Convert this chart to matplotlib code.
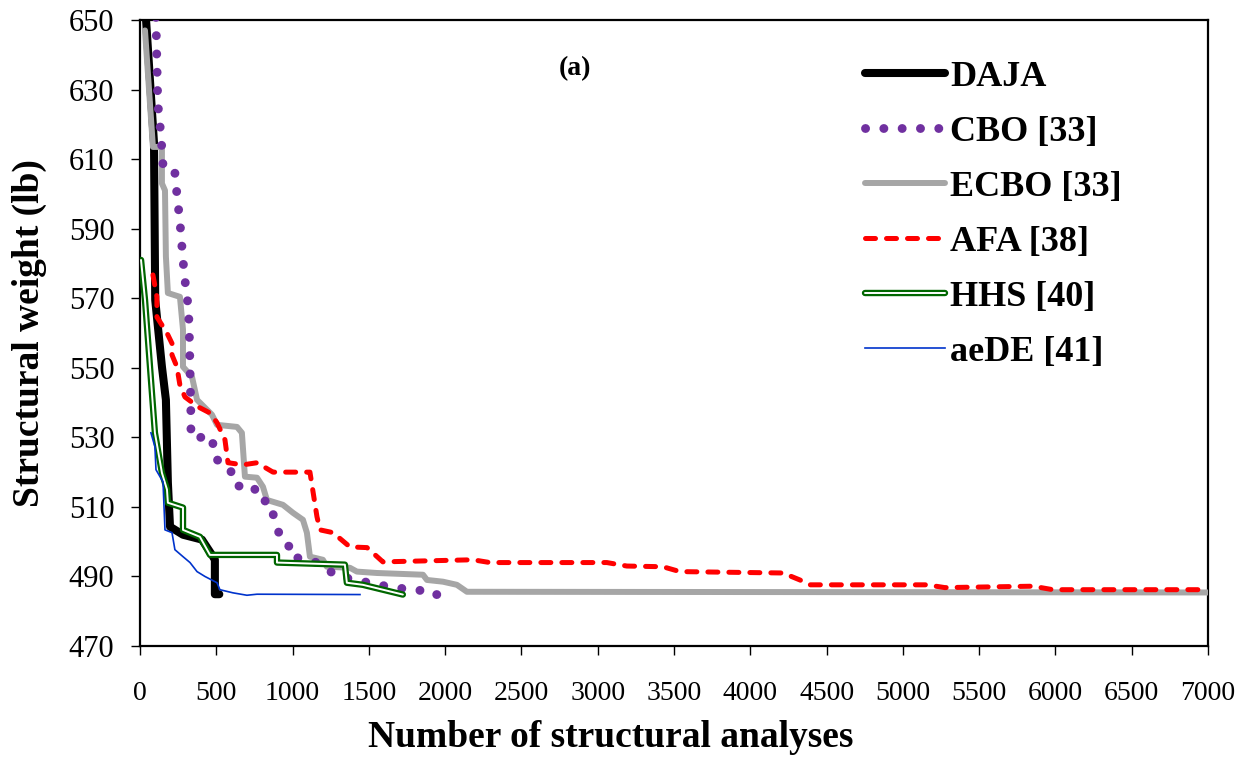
import matplotlib
matplotlib.use("Agg")
import matplotlib.pyplot as plt
import matplotlib.patheffects as pe
import numpy as np

plt.rcParams['font.family'] = ['Liberation Serif', 'DejaVu Serif']

# Convergence histories: number of structural analyses vs. best weight (lb)
daja_x = [25, 40, 92, 100, 144, 170, 183, 197, 282, 406, 472, 491, 491, 520]
daja_y = [680, 650, 614.7, 569.5, 550.3, 540.8, 517, 504.3, 502, 500.6, 496.2, 494.8, 484.9, 484.9]

cbo_x = [105, 105, 117, 131, 142, 153, 229, 242, 262, 282, 295, 308, 322, 328, 334, 334,
         478, 478, 518, 590, 629, 747, 773, 852, 872, 904, 930, 983, 983, 1062, 1160,
         1297, 1422, 1553, 1658, 1789, 1861, 1894, 2031]
cbo_y = [662, 650, 626, 620, 614, 607, 606, 600, 592, 581, 575, 571.5, 563, 550, 536, 530,
         530, 525, 523, 521, 516, 516, 512, 511.5, 508, 503.4, 500, 498.5, 496, 495, 494,
         490, 489, 487.6, 487, 486, 486, 484.8, 484.8]

ecbo_x = [33, 85, 144, 144, 164, 170, 183, 262, 282, 282, 341, 374, 472, 505, 636, 668, 688,
          767, 806, 832, 937, 1003, 1068, 1094, 1114, 1199, 1225, 1376, 1422, 1553, 1855,
          1881, 1986, 2077, 2143, 7000]
ecbo_y = [647, 613.5, 613.5, 603, 601, 582, 571.5, 570.4, 561, 550.3, 547.4, 540.8, 536.5,
          533.6, 533, 531.3, 518.7, 518.4, 515.8, 512, 510.6, 508.3, 506.3, 502.6, 495.7,
          494.8, 492.8, 492.5, 491.4, 491, 490.5, 489, 488.5, 487.6, 485.6, 485.4]

afa_x = [85, 111, 111, 177, 210, 210, 242, 262, 295, 380, 459, 505, 557, 577, 675, 767, 872,
         1114, 1160, 1180, 1265, 1376, 1488, 1592, 2182, 2294, 3060, 3191, 3427, 3539, 4214,
         4325, 4391, 5157, 5275, 5852, 5983, 7000]
afa_y = [576.7, 570.4, 564.6, 560, 557, 553.7, 550.3, 545, 541.6, 538.8, 537, 534.2, 529.3,
         522.7, 522.1, 522.7, 520, 520, 507.2, 503.4, 502.6, 498.5, 498.3, 494.2, 494.8, 494,
         494, 493, 492.8, 491.4, 491, 489, 487.6, 487.6, 486.8, 487.2, 486.2, 486.2]

hhs_x = [7, 33, 98, 144, 177, 183, 282, 282, 393, 459, 898, 898, 1343, 1356, 1461, 1723]
hhs_y = [581, 569.5, 531.3, 519.8, 515, 511.2, 509.8, 503.4, 501.4, 496.2, 496.2, 494,
         493.4, 488.2, 487.6, 484.8]

aede_x = [72, 98, 105, 151, 164, 210, 229, 282, 328, 374, 426, 505, 524, 609, 701, 767, 1442]
aede_y = [531.3, 527.3, 520.7, 517.2, 503.4, 502.6, 497.7, 495.7, 494, 491.4, 490, 488.2,
          486.2, 485.3, 484.6, 484.9, 484.8]

labels = ["DAJA", "CBO [33]", "ECBO [33]", "AFA [38]", "HHS [40]", "aeDE [41]"]
x_ticks = np.arange(0, 7001, 500)
y_ticks = np.arange(470, 651, 20)

fig = plt.figure(figsize=(12.53, 7.63), dpi=100)
ax = fig.add_axes([0.1117, 0.1533, 0.8524, 0.8205])

l_daja, = ax.plot(daja_x, daja_y, color='black', lw=5.8, solid_capstyle='round',
                  solid_joinstyle='round', label=labels[0], zorder=2)
l_ecbo, = ax.plot(ecbo_x, ecbo_y, color='#A6A6A6', lw=4.3, solid_capstyle='round',
                  solid_joinstyle='round', label=labels[2], zorder=3)
l_cbo, = ax.plot(cbo_x, cbo_y, color='#7030A0', lw=6.4, linestyle=(0, (0.01, 2.05)),
                 dash_capstyle='round', label=labels[1], zorder=4)
l_afa, = ax.plot(afa_x, afa_y, color='#FF0000', lw=3.6, linestyle=(0, (2.0, 2.2)),
                 dash_capstyle='round', dash_joinstyle='round', label=labels[3], zorder=5)
l_hhs, = ax.plot(hhs_x, hhs_y, color='white', lw=1.4, solid_capstyle='round',
                 solid_joinstyle='round', label=labels[4], zorder=6,
                 path_effects=[pe.Stroke(linewidth=4.6, foreground='#006600'), pe.Normal()])
l_aede, = ax.plot(aede_x, aede_y, color='#0033CC', lw=1.2, label=labels[5], zorder=7)

ax.set_xlim(0, 7000)
ax.set_ylim(470, 650)
ax.set_xticks(x_ticks)
ax.set_yticks(y_ticks)

for s in ax.spines.values():
    s.set_linewidth(1.6)
ax.tick_params(axis='both', direction='out', length=6.5, width=1.0)
ax.tick_params(axis='x', pad=19, labelsize=20)
ax.tick_params(axis='y', pad=12, labelsize=22)

ax.set_xlabel("Number of structural analyses", fontsize=27, fontweight='bold')
ax.set_ylabel("Structural weight (lb)", fontsize=27, fontweight='bold')
ax.xaxis.set_label_coords(0.441, -0.118)
ax.yaxis.set_label_coords(-0.087, 0.5)

ax.text(0.407, 0.923, "(a)", transform=ax.transAxes, fontsize=20, fontweight='bold',
        ha='center', va='center')

leg = ax.legend(handles=[l_daja, l_cbo, l_ecbo, l_afa, l_hhs, l_aede], labels=labels,
                loc='upper left', bbox_to_anchor=(0.679, 0.935), frameon=False,
                prop={'size': 26, 'weight': 'bold'}, handlelength=2.2,
                handletextpad=0.15, labelspacing=0.6, borderpad=0, borderaxespad=0)

fig.savefig("out.png", dpi=100, facecolor='white')
